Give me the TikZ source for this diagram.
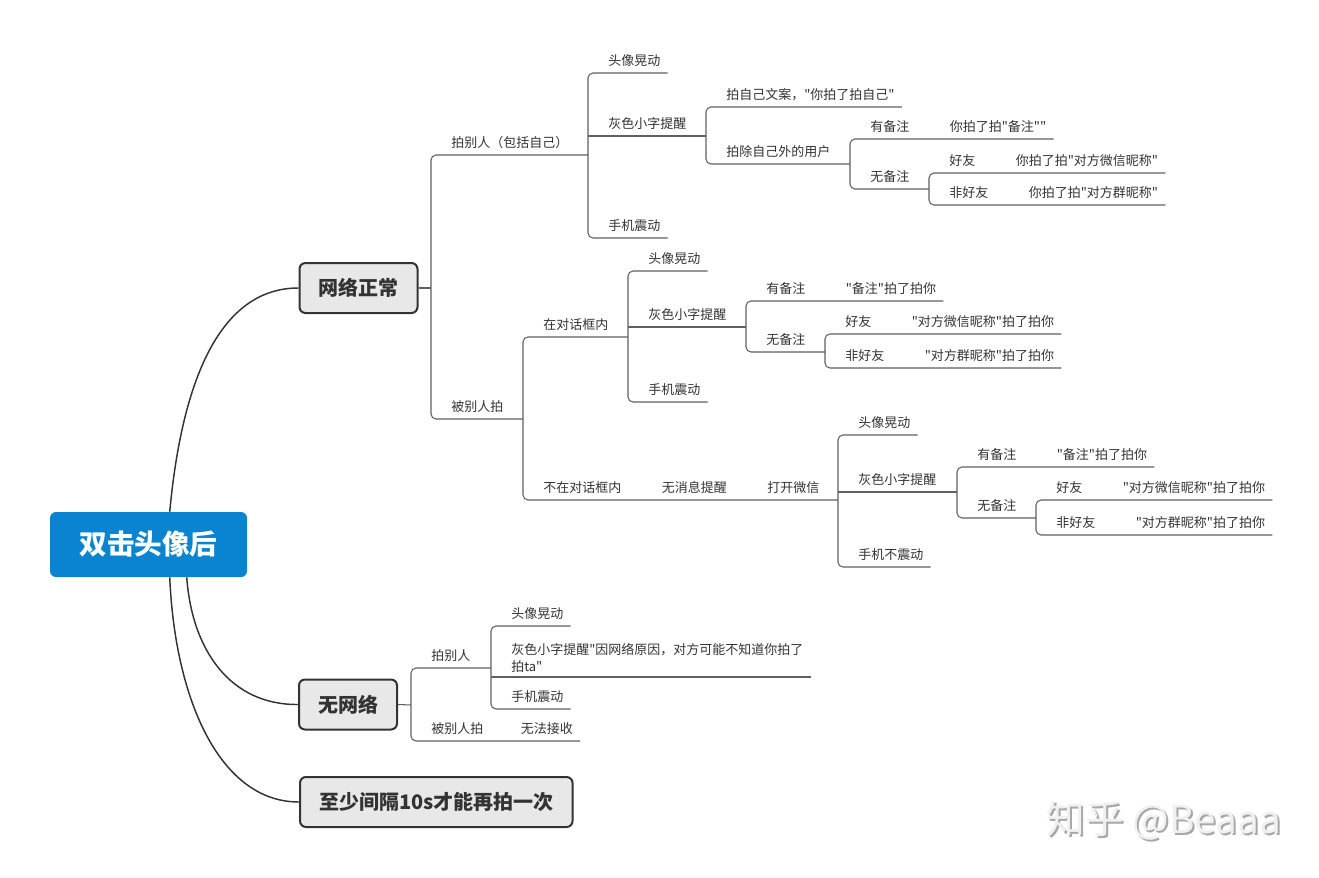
\documentclass[tikz,border=0pt]{standalone}
\usepackage{fontspec}
\setmainfont{Noto Sans CJK SC}[Ligatures=TeXOff]
\usepackage{tikz}
\usetikzlibrary{positioning}
\definecolor{ink}{HTML}{333333}
\definecolor{branch}{HTML}{606060}
\definecolor{boxfill}{HTML}{E8E8E8}
\definecolor{rootblue}{HTML}{0A84D0}
\definecolor{wmgray}{HTML}{A8A8A8}
\definecolor{wmlight}{HTML}{F0F0F0}
\tikzset{
  tpbase/.style={font=\fontsize{9.75}{12.75}\selectfont, text=ink, inner xsep=5.25pt},
  tp/.style={tpbase, text height=8pt, text depth=2pt, inner ysep=3.3pt},
  kid/.style={tp, anchor=south west, xshift=9.75pt},
  mainbox/.style={draw=ink, line width=1.5pt, fill=boxfill, rounded corners=4.5pt,
                  minimum height=37.5pt, inner xsep=14.25pt, text=ink,
                  font=\fontsize{15}{18}\selectfont\bfseries},
  rootbox/.style={fill=rootblue, rounded corners=4.5pt, minimum width=147.75pt,
                  minimum height=48.75pt, text=white, font=\fontsize{20.7}{24}\selectfont\bfseries},
  br/.style={draw=branch, line width=0.8pt},
  rc/.style={rounded corners=3.75pt},
  trunk/.style={draw=ink, line width=1.1pt},
  wm/.style={font=\fontsize{29}{33}\selectfont, inner sep=0pt},
}

\begin{document}
\begin{tikzpicture}[x=0.75pt, y=-0.75pt]
  \useasboundingbox (0,0) rectangle (1319,877);

  \node[rootbox] (root) at (148.5,544.5) {双击头像后};
  \node[mainbox] (net) at (358.5,288) {网络正常};
  \node[mainbox] (nonet) at (348,704.5) {无网络};
  \node[mainbox, anchor=west] (gap) at (299,802) {至少间隔10s才能再拍一次};

  \draw[trunk] ([xshift=90pt]root.north west) .. controls (182,380) and (220,288) .. (net.west);
  \draw[trunk] ([xshift=102.75pt]root.south west) .. controls (192,650) and (230,705) .. (nonet.west);
  \draw[trunk] ([xshift=90pt]root.south west) .. controls (175,700) and (220,802) .. (gap.west);

  % 网络正常
  \coordinate (jA) at (431,288);
  \coordinate (jB) at (588,155);
  \coordinate (jF) at (523,419);
  \node[kid] (patO) at (431,155) {拍别人（包括自己）};
  \node[kid] (beiP) at (431,419) {被别人拍};
  \draw[br] (net.east) -- (jA);
  \draw[br, rc] (jB) -| (jA) |- (jF);

  \coordinate (jC) at (706,136);
  \node[kid] (pA1) at (588,73) {头像晃动};
  \node[kid] (pA2) at (588,136) {灰色小字提醒};
  \node[kid] (pA3) at (588,238) {手机震动};
  \draw[br, rc] (pA1.south east) -| (jB) |- (pA3.south east);
  \draw[br] (jB |- pA2.south) -- (jC);

  \coordinate (jD) at (850,164);
  \node[kid] (pB1) at (706,107) {拍自己文案，"你拍了拍自己"};
  \node[kid] (pB2) at (706,164) {拍除自己外的用户};
  \draw[br, rc] (pB1.south east) -| (jC) |- (jD);

  \coordinate (jE) at (929,189);
  \node[kid] (pC1) at (850,139) {有备注};
  \node[tp, right=19.5pt of pC1] (pC1a) {你拍了拍"备注""};
  \node[kid] (pC2) at (850,189) {无备注};
  \draw[br, rc] (pC1a.south east) -| (jD) |- (jE);

  \node[kid] (pD1) at (929,173) {好友};
  \node[tp, right=19.5pt of pD1] (pD1a) {你拍了拍"对方微信昵称"};
  \node[kid] (pD2) at (929,205) {非好友};
  \node[tp, right=19.5pt of pD2] (pD2a) {你拍了拍"对方群昵称"};
  \draw[br, rc] (pD1a.south east) -| (jE) |- (pD2a.south east);

  % 被别人拍
  \coordinate (jG) at (628,337);
  \coordinate (jJ) at (838,500);
  \node[kid] (bA1) at (523,337) {在对话框内};
  \node[kid] (bA2) at (523,500) {不在对话框内};
  \node[tp, right=19.5pt of bA2] (bA2a) {无消息提醒};
  \node[tp, right=19.5pt of bA2a] (bA2b) {打开微信};
  \draw[br, rc] (jG) -| (jF) |- (jJ);

  \coordinate (jH) at (746,327);
  \node[kid] (bB1) at (628,271) {头像晃动};
  \node[kid] (bB2) at (628,327) {灰色小字提醒};
  \node[kid] (bB3) at (628,402) {手机震动};
  \draw[br, rc] (bB1.south east) -| (jG) |- (bB3.south east);
  \draw[br] (jG |- bB2.south) -- (jH);

  \coordinate (jI) at (825,352);
  \node[kid] (bC1) at (746,301) {有备注};
  \node[tp, right=19.5pt of bC1] (bC1a) {"备注"拍了拍你};
  \node[kid] (bC2) at (746,352) {无备注};
  \draw[br, rc] (bC1a.south east) -| (jH) |- (jI);

  \node[kid] (bD1) at (825,334) {好友};
  \node[tp, right=19.5pt of bD1] (bD1a) {"对方微信昵称"拍了拍你};
  \node[kid] (bD2) at (825,368) {非好友};
  \node[tp, right=19.5pt of bD2] (bD2a) {"对方群昵称"拍了拍你};
  \draw[br, rc] (bD1a.south east) -| (jI) |- (bD2a.south east);

  \coordinate (jK) at (957,492);
  \node[kid] (bE1) at (838,435) {头像晃动};
  \node[kid] (bE2) at (838,492) {灰色小字提醒};
  \node[kid] (bE3) at (838,567) {手机不震动};
  \draw[br, rc] (bE1.south east) -| (jJ) |- (bE3.south east);
  \draw[br] (jJ |- bE2.south) -- (jK);

  \coordinate (jL) at (1036,518);
  \node[kid] (bF1) at (957,467) {有备注};
  \node[tp, right=19.5pt of bF1] (bF1a) {"备注"拍了拍你};
  \node[kid] (bF2) at (957,518) {无备注};
  \draw[br, rc] (bF1a.south east) -| (jK) |- (jL);

  \node[kid] (bG1) at (1036,500) {好友};
  \node[tp, right=19.5pt of bG1] (bG1a) {"对方微信昵称"拍了拍你};
  \node[kid] (bG2) at (1036,535) {非好友};
  \node[tp, right=19.5pt of bG2] (bG2a) {"对方群昵称"拍了拍你};
  \draw[br, rc] (bG1a.south east) -| (jL) |- (bG2a.south east);

  % 无网络
  \coordinate (jM) at (411,705);
  \coordinate (jN) at (491,668);
  \node[kid] (nA1) at (411,668) {拍别人};
  \node[kid] (nA2) at (411,741) {被别人拍};
  \node[tp, right=17.25pt of nA2] (nA2a) {无法接收};
  \draw[br] (nonet.east) -- (jM);
  \draw[br, rc] (jN) -| (jM) |- (nA2a.south east);

  \node[kid] (nB1) at (491,626) {头像晃动};
  \node[tpbase, anchor=south west, xshift=9.75pt, inner ysep=3.3pt, align=left] (nB2) at (491,677)
    {灰色小字提醒"因网络原因，对方可能不知道你拍了\\拍ta"};
  \node[kid] (nB3) at (491,709) {手机震动};
  \draw[br, rc] (nB1.south east) -| (jN) |- (nB3.south east);
  \draw[br] (jN |- nB2.south) -- (nB2.south east);

  \node[wm, text=wmgray] (wmS) at (1166,823) {知乎 @Beaaa};
  \node[wm, text=wmlight] (wmT) at (1164,821) {知乎 @Beaaa};
\end{tikzpicture}
\end{document}
